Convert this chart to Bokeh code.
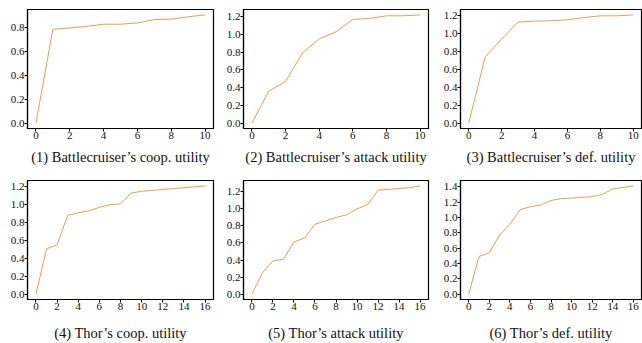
from bokeh.plotting import figure
from bokeh.layouts import gridplot
from bokeh.models import SingleIntervalTicker, NumeralTickFormatter, DataRange1d
from bokeh.embed import file_html
from bokeh.resources import INLINE

titles = [
    "(1) Battlecruiser\u2019s coop. utility",
    "(2) Battlecruiser\u2019s attack utility",
    "(3) Battlecruiser\u2019s def. utility",
    "(4) Thor\u2019s coop. utility",
    "(5) Thor\u2019s attack utility",
    "(6) Thor\u2019s def. utility",
]

bc_coop = [0.0, 0.786, 0.797, 0.81, 0.828, 0.828, 0.839, 0.867, 0.87, 0.89, 0.906]
bc_attack = [0.0, 0.36, 0.47, 0.79, 0.95, 1.03, 1.17, 1.18, 1.21, 1.21, 1.22]
bc_def = [0.0, 0.74, 0.94, 1.13, 1.14, 1.145, 1.155, 1.18, 1.20, 1.20, 1.21]
thor_coop = [0.0, 0.507, 0.55, 0.88, 0.91, 0.93, 0.97, 1.00, 1.01, 1.13, 1.15,
             1.16, 1.17, 1.18, 1.19, 1.20, 1.21]
thor_attack = [0.0, 0.25, 0.39, 0.41, 0.61, 0.66, 0.82, 0.86, 0.90, 0.93, 1.00,
               1.05, 1.22, 1.23, 1.24, 1.25, 1.27]
thor_def = [0.0, 0.49, 0.54, 0.77, 0.91, 1.10, 1.14, 1.16, 1.22, 1.245, 1.25,
            1.26, 1.27, 1.30, 1.37, 1.39, 1.41]

series = [bc_coop, bc_attack, bc_def, thor_coop, thor_attack, thor_def]

x_tick_step = 2
y_tick_step = 0.2

FONT = "Liberation Serif"
LINE_COLOR = "#f59a52"

widths = [218, 216, 208]
heights = [172, 171]
borders_left = [27, 25, 26]
borders_right = [5, 6, 1]
borders_top = [9, 8]
borders_bottom = [44, 44]
label_standoff = [7, 12]

figs = []
for i, (ys, title) in enumerate(zip(series, titles)):
    row, col = divmod(i, 3)
    xs = list(range(len(ys)))
    p = figure(width=widths[col], height=heights[row], output_backend="svg",
               toolbar_location=None,
               x_range=DataRange1d(range_padding=0.1),
               y_range=DataRange1d(range_padding=0.1))
    p.line(xs, ys, line_color=LINE_COLOR, line_width=1)
    p.min_border_left = borders_left[col]
    p.min_border_right = borders_right[col]
    p.min_border_top = borders_top[row]
    p.min_border_bottom = borders_bottom[row]
    p.grid.visible = False
    p.outline_line_color = "black"
    p.outline_line_width = 1.2
    p.outline_line_alpha = 1
    p.xaxis.ticker = SingleIntervalTicker(interval=x_tick_step, num_minor_ticks=0)
    p.yaxis.ticker = SingleIntervalTicker(interval=y_tick_step, num_minor_ticks=0)
    p.yaxis.formatter = NumeralTickFormatter(format="0.0")
    for ax in (p.xaxis[0], p.yaxis[0]):
        ax.axis_line_color = "black"
        ax.axis_line_width = 1.2
        ax.major_tick_line_color = "black"
        ax.major_tick_in = 0
        ax.major_tick_out = 3
        ax.minor_tick_line_color = None
        ax.major_label_text_font = FONT
        ax.major_label_text_font_size = "11px"
        ax.major_label_text_color = "#111111"
        ax.major_label_standoff = 0
    p.xaxis.axis_label = title
    p.xaxis.axis_label_text_font = FONT
    p.xaxis.axis_label_text_font_size = "14.5px"
    p.xaxis.axis_label_text_font_style = "normal"
    p.xaxis.axis_label_text_color = "#111111"
    p.xaxis.axis_label_standoff = label_standoff[row]
    figs.append(p)

grid = gridplot([figs[0:3], figs[3:6]], toolbar_location=None)

open("out.html", "w").write(file_html(grid, INLINE))
